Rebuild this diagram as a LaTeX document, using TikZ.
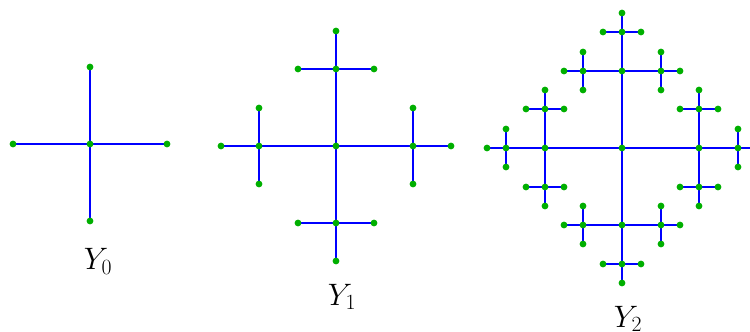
\RequirePackage{fix-cm}
\documentclass[tikz,border=0pt]{standalone}
\usetikzlibrary{backgrounds}
\begin{document}
\begin{tikzpicture}[x=1pt, y=-1pt,
  dot/.style={circle, fill=cG, draw=none, inner sep=0pt, minimum size=6.8pt},
  arm/.style={cB, line width=2pt},
  lab/.style={anchor=base, font=\fontsize{31}{36}\selectfont}]

\definecolor{cB}{RGB}{0,0,255}
\definecolor{cG}{RGB}{0,175,0}

\useasboundingbox (0,0) rectangle (750,332);

%% Y0 — a single cross (arm 77)
\node[dot] (a) at (90,144) {};
\foreach \ang [count=\i] in {0,90,180,270} {
  \path (a) ++(\ang:77) node[dot] (a-\i) {};
  \begin{pgfonlayer}{background}
    \draw[arm] (a.center) -- (a-\i.center);
  \end{pgfonlayer}
}
\node[lab] (y0) at (98,269.5) {$Y_0$};

%% Y1 — half-size crosses on the four tips
\node[dot] (b) at (336,146) {};
\foreach \ang [count=\i] in {0,90,180,270} {
  \path (b) ++(\ang:77) node[dot] (b-\i) {};
  \begin{pgfonlayer}{background}
    \draw[arm] (b.center) -- (b-\i.center);
  \end{pgfonlayer}
  \foreach \dd [count=\j] in {270,0,90} {
    \path (b-\i) ++(\ang+\dd:38) node[dot] (b-\i-\j) {};
    \begin{pgfonlayer}{background}
      \draw[arm] (b-\i.center) -- (b-\i-\j.center);
    \end{pgfonlayer}
  }
}
\node[lab] (y1) at (342,305) {$Y_1$};

%% Y2 — quarter-size crosses on the twelve tips of Y1
\node[dot] (c) at (622,148) {};
\foreach \ang [count=\i] in {0,90,180,270} {
  \path (c) ++(\ang:77) node[dot] (c-\i) {};
  \begin{pgfonlayer}{background}
    \draw[arm] (c.center) -- (c-\i.center);
  \end{pgfonlayer}
  \foreach \dd [count=\j] in {270,0,90} {
    \path (c-\i) ++(\ang+\dd:39) node[dot] (c-\i-\j) {};
    \begin{pgfonlayer}{background}
      \draw[arm] (c-\i.center) -- (c-\i-\j.center);
    \end{pgfonlayer}
    \foreach \ee [count=\k] in {270,0,90} {
      \path (c-\i-\j) ++(\ang+\dd+\ee:19) node[dot] (c-\i-\j-\k) {};
      \begin{pgfonlayer}{background}
        \draw[arm] (c-\i-\j.center) -- (c-\i-\j-\k.center);
      \end{pgfonlayer}
    }
  }
}
\node[lab] (y2) at (628,327) {$Y_2$};

\end{tikzpicture}
\end{document}
